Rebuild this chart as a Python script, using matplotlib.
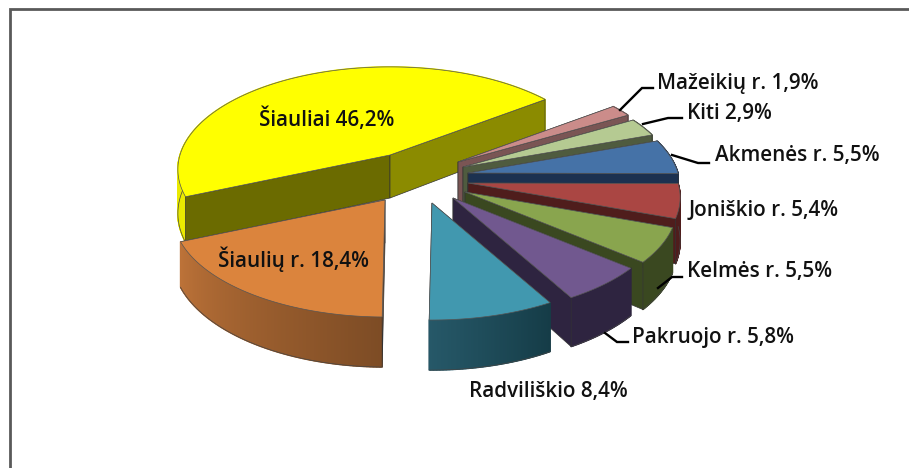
import numpy as np
import matplotlib
matplotlib.use("Agg")
import matplotlib.pyplot as plt
from matplotlib.collections import PolyCollection
from matplotlib.colors import to_rgb

# ---- data (clockwise from the start angle) ----
categories = ["Akmenės r.", "Joniškio r.", "Kelmės r.", "Pakruojo r.", "Radviliškio",
              "Šiaulių r.", "Šiauliai", "Mažeikių r.", "Kiti"]
values = [5.5, 5.4, 5.5, 5.8, 8.4, 18.4, 46.2, 1.9, 2.9]

# ---- style / layout ----
top_colors = ["#4572A7", "#AA4643", "#89A54E", "#71588F", "#4198AF",
              "#DB843D", "#FFFF00", "#CB8C8A", "#B5CA92"]
side_from = ["#1C3150", "#4F1D1C", "#3A4820", "#2E2440", "#153C47",
             "#7D4C25", "#EBEB00", "#7A5554", "#4F5B3F"]
side_to = ["#1C3150", "#4F1D1C", "#3A4820", "#2E2440", "#265868",
           "#BC7238", "#E0E000", "#7A5554", "#4F5B3F"]
face_start = ["#1C3150", "#4F1D1C", "#3A4820", "#2E2440", "#153C47",
              "#7D4C25", "#6B6B00", "#7A5554", "#4F5B3F"]
face_end = ["#1C3150", "#4F1D1C", "#3A4820", "#2E2440", "#265868",
            "#7D4C25", "#8B8B00", "#7A5554", "#4F5B3F"]
# where each exploded slice's tip ends up (explosion offsets, per category)
tip_x = [468, 468, 465, 453, 432, 385, 390, 458, 463]
tip_y = [173, 183, 192, 198, 203, 200, 155, 162, 167]
draw_order = [6, 7, 8, 0, 1, 2, 3, 4, 5]

START, RX, RY, PERSP, DEPTH = 19.5, 210.0, 100.5, 0.141, 43.0

label_pos = {  # x, y, ha
    "Šiauliai": (327, 119, "center"),
    "Šiaulių r.": (293, 259, "center"),
    "Radviliškio": (548, 392, "center"),
    "Pakruojo r.": (632, 337, "left"),
    "Kelmės r.": (687, 271, "left"),
    "Joniškio r.": (689, 210, "left"),
    "Akmenės r.": (715, 156, "left"),
    "Kiti": (687, 114, "left"),
    "Mažeikių r.": (657, 83, "left"),
}
leaders = [
    ([620, 642, 653], [110, 88, 88]),
    ([643, 668, 682], [124, 118, 118]),
    ([672, 698, 709], [155, 163, 163]),
    ([658, 672, 682], [288, 277, 277]),
    ([605, 617, 628], [333, 342, 342]),
]

fig = plt.figure(figsize=(9.09, 4.68), dpi=100, facecolor="white")
ax = fig.add_axes([0, 0, 1, 1])
ax.set_xlim(0, 909)
ax.set_ylim(468, 0)
ax.axis("off")

# chart frame (open at right and bottom, as cropped)
ax.plot([9.5, 9.5, 909], [468, 9, 9], color="#595959", lw=2.0, solid_joinstyle="miter", zorder=1)


def project(theta_deg, tipx, tipy):
    t = np.radians(theta_deg)
    u, v = np.cos(t), np.sin(t)
    w = 1 + PERSP * v
    return tipx + RX * u / w, tipy - RY * v / w, DEPTH / w


def mix(c0, c1, f):
    a, b = np.array(to_rgb(c0)), np.array(to_rgb(c1))
    return tuple(a + (b - a) * f)


spans = np.array(values) / sum(values) * 360
ends = START - np.concatenate(([0], np.cumsum(spans)))
z = 3


def radial_face(end, color, tx, ty, px, py, pd):
    global z
    ax.fill([tx, px[end], px[end], tx],
            [ty, py[end], py[end] + pd[end], ty + DEPTH],
            facecolor=color, edgecolor="#333333", lw=0.5, zorder=z)
    z += 1


for i in draw_order:
    a0, a1 = ends[i], ends[i + 1]
    th = np.linspace(a0, a1, max(int(spans[i] * 3), 16))
    px, py, pd = project(th, tip_x[i], tip_y[i])
    tx, ty = tip_x[i], tip_y[i]

    start_seen = np.cos(np.radians(a0)) < 0
    end_seen = np.cos(np.radians(a1)) > 0
    if not start_seen:
        radial_face(0, face_start[i], tx, ty, px, py, pd)
    if not end_seen:
        radial_face(-1, face_end[i], tx, ty, px, py, pd)

    # outer rim, shaded quad by quad
    quads, cols = [], []
    for j in range(len(th) - 1):
        quads.append([(px[j], py[j]), (px[j + 1], py[j + 1]),
                      (px[j + 1], py[j + 1] + pd[j + 1]), (px[j], py[j] + pd[j])])
        f = j / (len(th) - 2)
        cols.append(mix(side_from[i], side_to[i], f))
    ax.add_collection(PolyCollection(quads, facecolors=cols, edgecolors=cols,
                                     linewidths=1.0, zorder=z))
    z += 1
    ax.plot(px, py + pd, color="#444444", lw=0.5, zorder=z)
    z += 1

    if start_seen:
        radial_face(0, face_start[i], tx, ty, px, py, pd)
    if end_seen:
        radial_face(-1, face_end[i], tx, ty, px, py, pd)

    ax.fill(np.r_[tx, px], np.r_[ty, py], facecolor=top_colors[i],
            edgecolor="#555555", lw=0.5, zorder=z)
    z += 1

for xs, ys in leaders:
    ax.plot(xs, ys, color="black", lw=1.7, zorder=z, solid_joinstyle="miter")

for name, val in zip(categories, values):
    x, y, ha = label_pos[name]
    value_text = f"{val:.1f}".replace(".", ",")
    ax.text(x, y, f"{name} {value_text}%", ha=ha, va="center",
            fontsize=14.9, family=["Open Sans", "DejaVu Sans"], fontweight=600,
            color="#111111", zorder=z + 1)

fig.savefig("out.png", dpi=100, facecolor="white")
